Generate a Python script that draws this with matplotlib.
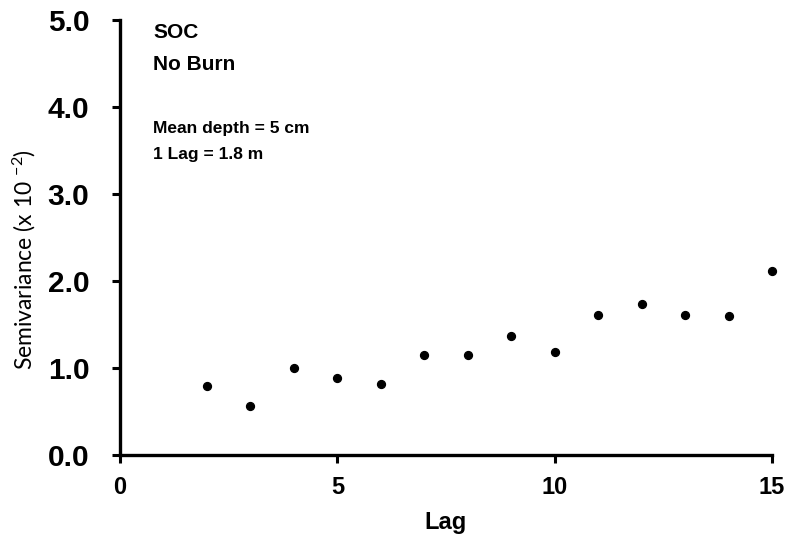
import matplotlib
matplotlib.use("Agg")
import matplotlib.pyplot as plt

plt.rcParams['font.family'] = ['Liberation Sans', 'DejaVu Sans']
plt.rcParams['mathtext.fontset'] = 'custom'
plt.rcParams['mathtext.rm'] = 'Lato'
plt.rcParams['mathtext.it'] = 'Lato'
plt.rcParams['mathtext.bf'] = 'Lato:bold'

lags = [2, 3, 4, 5, 6, 7, 8, 9, 10, 11, 12, 13, 14, 15]
semivariance = [0.79, 0.56, 1.00, 0.885, 0.82, 1.15, 1.15, 1.37, 1.18, 1.61, 1.74, 1.61, 1.60, 2.11]
x_ticks = [0, 5, 10, 15]
y_ticks = [0.0, 1.0, 2.0, 3.0, 4.0, 5.0]

W, H = 793, 540
fig = plt.figure(figsize=(W/100, H/100), dpi=100)
ax = fig.add_axes([120/W, (H-455)/H, (772-120)/W, (455-20)/H])

ax.scatter(lags, semivariance, s=32, color='black', zorder=3, clip_on=False)

ax.set_xlim(0, 15)
ax.set_ylim(0, 5)
ax.set_xticks(x_ticks)
ax.set_xticklabels([str(t) for t in x_ticks], fontsize=17, fontweight='bold')
ax.set_yticks(y_ticks)
ax.set_yticklabels([f"{t:.1f}" for t in y_ticks], fontsize=21.5, fontweight='bold')

for s in ['top', 'right']:
    ax.spines[s].set_visible(False)
for s in ['left', 'bottom']:
    ax.spines[s].set_linewidth(2.4)
ax.tick_params(axis='both', direction='out', length=6, width=2.2)
ax.tick_params(axis='x', pad=9)
ax.tick_params(axis='y', pad=16)

ax.set_xlabel('Lag', fontsize=17, fontweight='bold')
ax.xaxis.set_label_coords(0.5, -(522-455)/435, transform=ax.transAxes)
ax.xaxis.label.set_va('center')
ax.set_ylabel(r'Semivariance (x 10 $^{-2}$)', fontsize=16.5, family='Lato')
ax.yaxis.set_label_coords(24/W, 1 - 260/H, transform=fig.transFigure)
ax.yaxis.label.set_va('center')

def txt(x, y, s, size):
    fig.text(x/W, 1 - y/H, s, fontsize=size, fontweight='bold', va='center', ha='left')

txt(153, 33, 'SOC', 15)
txt(153, 65, 'No Burn', 15)
txt(153, 128, 'Mean depth = 5 cm', 12.5)
txt(153, 154, '1 Lag = 1.8 m', 12.5)

fig.savefig('out.png', dpi=100)
